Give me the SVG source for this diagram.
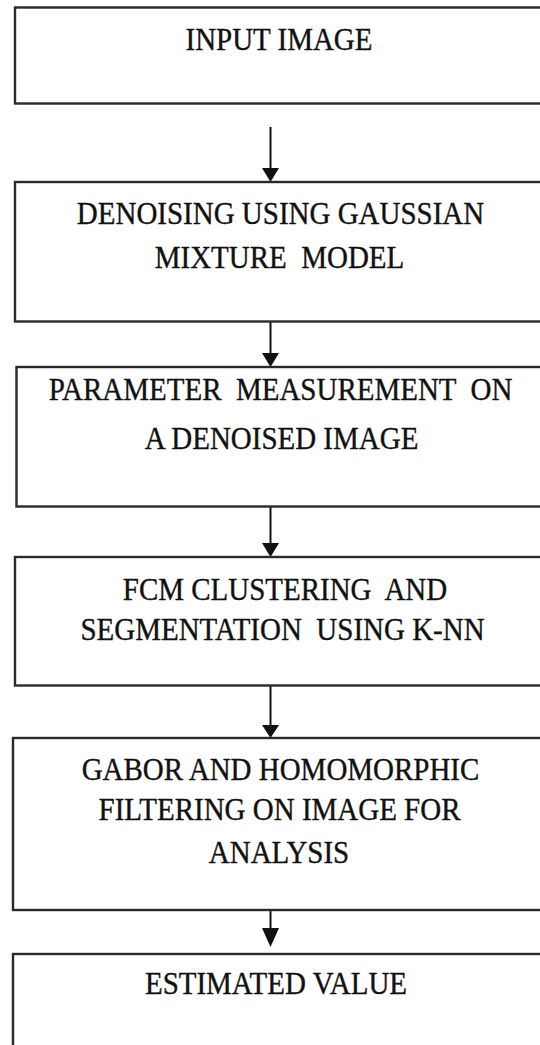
<svg xmlns="http://www.w3.org/2000/svg" width="540" height="1045" viewBox="0 0 540 1045">
<style>
.box{fill:#fff;stroke:#2a2a2a;stroke-width:2.4}
.lbl{font-family:"Liberation Serif","Times New Roman",serif;font-size:29px;fill:#111;stroke:#111;stroke-width:0.35;text-anchor:middle;white-space:pre}
.conn{stroke:#111;stroke-width:2;fill:none}
.head{fill:#111}
</style>
<rect width="540" height="1045" fill="#fff"/>
<g id="connectors">
<line class="conn" x1="270.5" y1="127" x2="270.5" y2="170"/>
<polygon class="head" points="262,168 279,168 270.5,182"/>
<line class="conn" x1="270.5" y1="317" x2="270.5" y2="355"/>
<polygon class="head" points="262,353 279,353 270.5,367"/>
<line class="conn" x1="270.5" y1="507" x2="270.5" y2="545"/>
<polygon class="head" points="262,543 279,543 270.5,557"/>
<line class="conn" x1="270.5" y1="682" x2="270.5" y2="727"/>
<polygon class="head" points="262,725 279,725 270.5,738"/>
<line class="conn" x1="270.5" y1="907" x2="270.5" y2="930"/>
<polygon class="head" points="262,928 279,928 270.5,947"/>
</g>
<g id="n1">
<rect class="box" x="15" y="7.5" width="560" height="96"/>
<text class="lbl" transform="translate(279,50) scale(1,1.12)">INPUT IMAGE</text>
</g>
<g id="n2">
<rect class="box" x="15" y="182" width="560" height="139.5"/>
<text class="lbl" transform="translate(280.5,224) scale(1,1.12)">DENOISING USING GAUSSIAN</text>
<text class="lbl" transform="translate(279.5,268) scale(1,1.12)">MIXTURE  MODEL</text>
</g>
<g id="n3">
<rect class="box" x="16.5" y="367" width="560" height="139.5"/>
<text class="lbl" transform="translate(280.5,400) scale(1,1.12)">PARAMETER  MEASUREMENT  ON</text>
<text class="lbl" transform="translate(281.5,449) scale(1,1.12)">A DENOISED IMAGE</text>
</g>
<g id="n4">
<rect class="box" x="15" y="557" width="560" height="128.5"/>
<text class="lbl" transform="translate(285,600) scale(1,1.12)">FCM CLUSTERING  AND</text>
<text class="lbl" transform="translate(282.5,640) scale(1,1.12)">SEGMENTATION  USING K-NN</text>
</g>
<g id="n5">
<rect class="box" x="13" y="738" width="560" height="172"/>
<text class="lbl" transform="translate(280.5,780) scale(1,1.12)">GABOR AND HOMOMORPHIC</text>
<text class="lbl" transform="translate(279.5,820) scale(1,1.12)">FILTERING ON IMAGE FOR</text>
<text class="lbl" transform="translate(279,862.5) scale(1,1.12)">ANALYSIS</text>
</g>
<g id="n6">
<rect class="box" x="13" y="954" width="560" height="140"/>
<text class="lbl" transform="translate(276,993.5) scale(1,1.12)">ESTIMATED VALUE</text>
</g>
</svg>
